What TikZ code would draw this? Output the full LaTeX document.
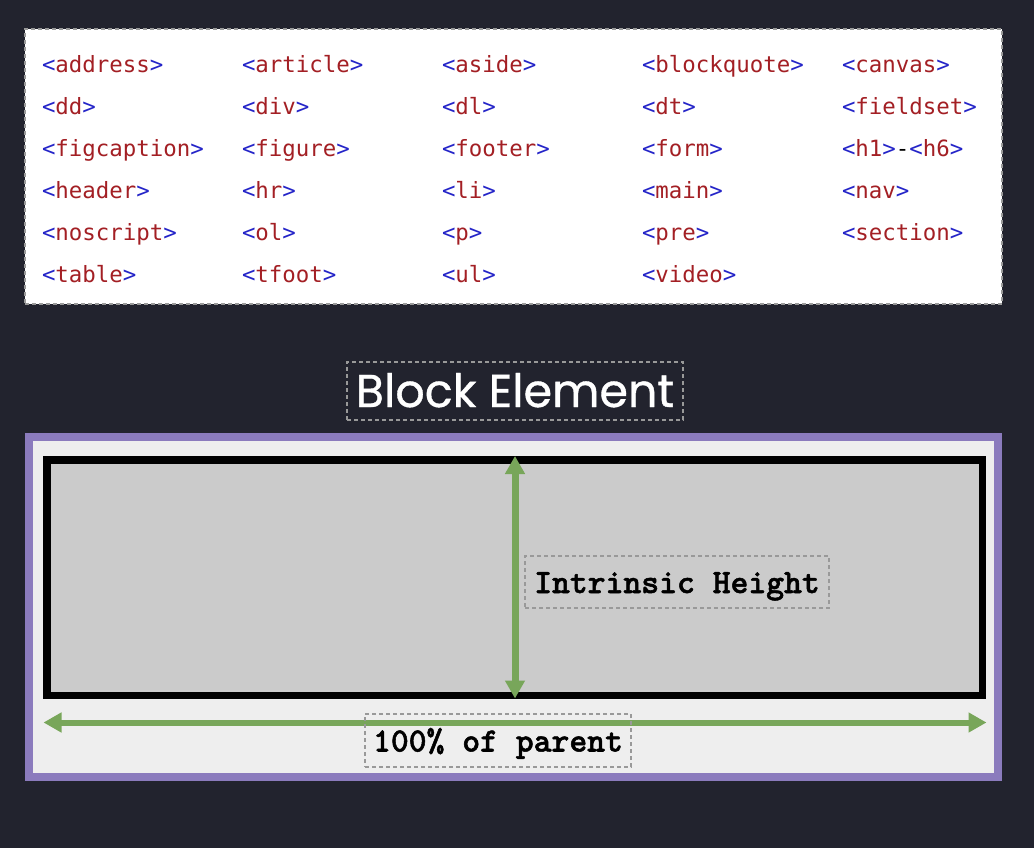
\documentclass[tikz,border=0pt]{standalone}
\usepackage{fontspec}
\usetikzlibrary{arrows.meta}
\newfontfamily\codefont{DejaVu Sans Mono}
\newfontfamily\titlefont{Poppins}[FakeBold=0.8]
\newfontfamily\labfont{lmmonolt10-bold.otf}[FakeBold=1.5]
\definecolor{bgdark}{HTML}{22232E}
\definecolor{purp}{HTML}{8B7BBD}
\definecolor{grn}{HTML}{78A65A}
\definecolor{lightin}{HTML}{EEEEEE}
\definecolor{grayin}{HTML}{CBCBCB}
\definecolor{tagb}{HTML}{2424C8}
\definecolor{tagr}{HTML}{A31F24}
\definecolor{dashg}{HTML}{999999}
\newcommand\mytag[1]{{\color{tagb}<}{\color{tagr}#1}{\color{tagb}>}}
\tikzset{
  every node/.style={outer sep=0pt},
  cell/.style={anchor=base west, inner sep=0pt, font=\codefont\fontsize{22.4}{26}\selectfont},
  dbox/.style={draw=dashg, dashed, dash pattern=on 4pt off 3pt, line width=1.5pt, inner sep=0pt},
  lab/.style={anchor=base, inner sep=0pt, font=\labfont\fontsize{34}{36}\selectfont},
  garrow/.style={draw=grn, {Triangle[width=19pt,length=18pt]}-{Triangle[width=19pt,length=18pt]}},
}
\begin{document}
\begin{tikzpicture}[x=1pt,y=-1pt]
\useasboundingbox (0,0) rectangle (1034,848);
\fill[bgdark] (0,0) rectangle (1034,848);
% table
\node[dbox, fill=white, draw=dashg, minimum width=977pt, minimum height=275pt, anchor=north west] (table) at (25,29) {};
\node[cell] (c11) at (42,72.5) {\mytag{address}};
\node[cell] (c12) at (242,72.5) {\mytag{article}};
\node[cell] (c13) at (442,72.5) {\mytag{aside}};
\node[cell] (c14) at (642,72.5) {\mytag{blockquote}};
\node[cell] (c15) at (842,72.5) {\mytag{canvas}};
\node[cell] (c21) at (42,114.5) {\mytag{dd}};
\node[cell] (c22) at (242,114.5) {\mytag{div}};
\node[cell] (c23) at (442,114.5) {\mytag{dl}};
\node[cell] (c24) at (642,114.5) {\mytag{dt}};
\node[cell] (c25) at (842,114.5) {\mytag{fieldset}};
\node[cell] (c31) at (42,156.5) {\mytag{figcaption}};
\node[cell] (c32) at (242,156.5) {\mytag{figure}};
\node[cell] (c33) at (442,156.5) {\mytag{footer}};
\node[cell] (c34) at (642,156.5) {\mytag{form}};
\node[cell] (c35) at (842,156.5) {\mytag{h1}-\mytag{h6}};
\node[cell] (c41) at (42,198.5) {\mytag{header}};
\node[cell] (c42) at (242,198.5) {\mytag{hr}};
\node[cell] (c43) at (442,198.5) {\mytag{li}};
\node[cell] (c44) at (642,198.5) {\mytag{main}};
\node[cell] (c45) at (842,198.5) {\mytag{nav}};
\node[cell] (c51) at (42,240.5) {\mytag{noscript}};
\node[cell] (c52) at (242,240.5) {\mytag{ol}};
\node[cell] (c53) at (442,240.5) {\mytag{p}};
\node[cell] (c54) at (642,240.5) {\mytag{pre}};
\node[cell] (c55) at (842,240.5) {\mytag{section}};
\node[cell] (c61) at (42,282.5) {\mytag{table}};
\node[cell] (c62) at (242,282.5) {\mytag{tfoot}};
\node[cell] (c63) at (442,282.5) {\mytag{ul}};
\node[cell] (c64) at (642,282.5) {\mytag{video}};
% title
\node[dbox, minimum width=336pt, minimum height=58pt, anchor=north west] (titlebox) at (347,362) {};
\node[anchor=base, inner sep=0pt, text=white, font=\titlefont\fontsize{46}{50}\selectfont] (title) at (515,407) {Block Element};
% purple container
\fill[purp] (25,433) rectangle (1002,781);
\fill[lightin] (33,441) rectangle (994,773);
% black box
\node[draw=black, line width=7.5pt, fill=grayin, minimum width=935.5pt, minimum height=235.5pt, anchor=north west, inner sep=0pt] (blk) at (46.75,459.75) {};
% arrows
\coordinate (vtop) at (515,456);
\coordinate (vbot) at (515,698.5);
\draw[garrow, line width=7pt] (vtop) -- (vbot);
\coordinate (hl) at (43.5,722.5);
\coordinate (hr) at (986.5,722.5);
\draw[garrow, line width=6pt] (hl) -- (hr);
% labels
\node[dbox, minimum width=304pt, minimum height=52pt, anchor=north west] (ihbox) at (525,556) {};
\node[lab] (ih) at (677,593) {Intrinsic Height};
\node[dbox, minimum width=266pt, minimum height=53pt, anchor=north west] (pbox) at (365,714) {};
\node[lab] (pp) at (498,751.5) {100\% of parent};
\end{tikzpicture}
\end{document}
